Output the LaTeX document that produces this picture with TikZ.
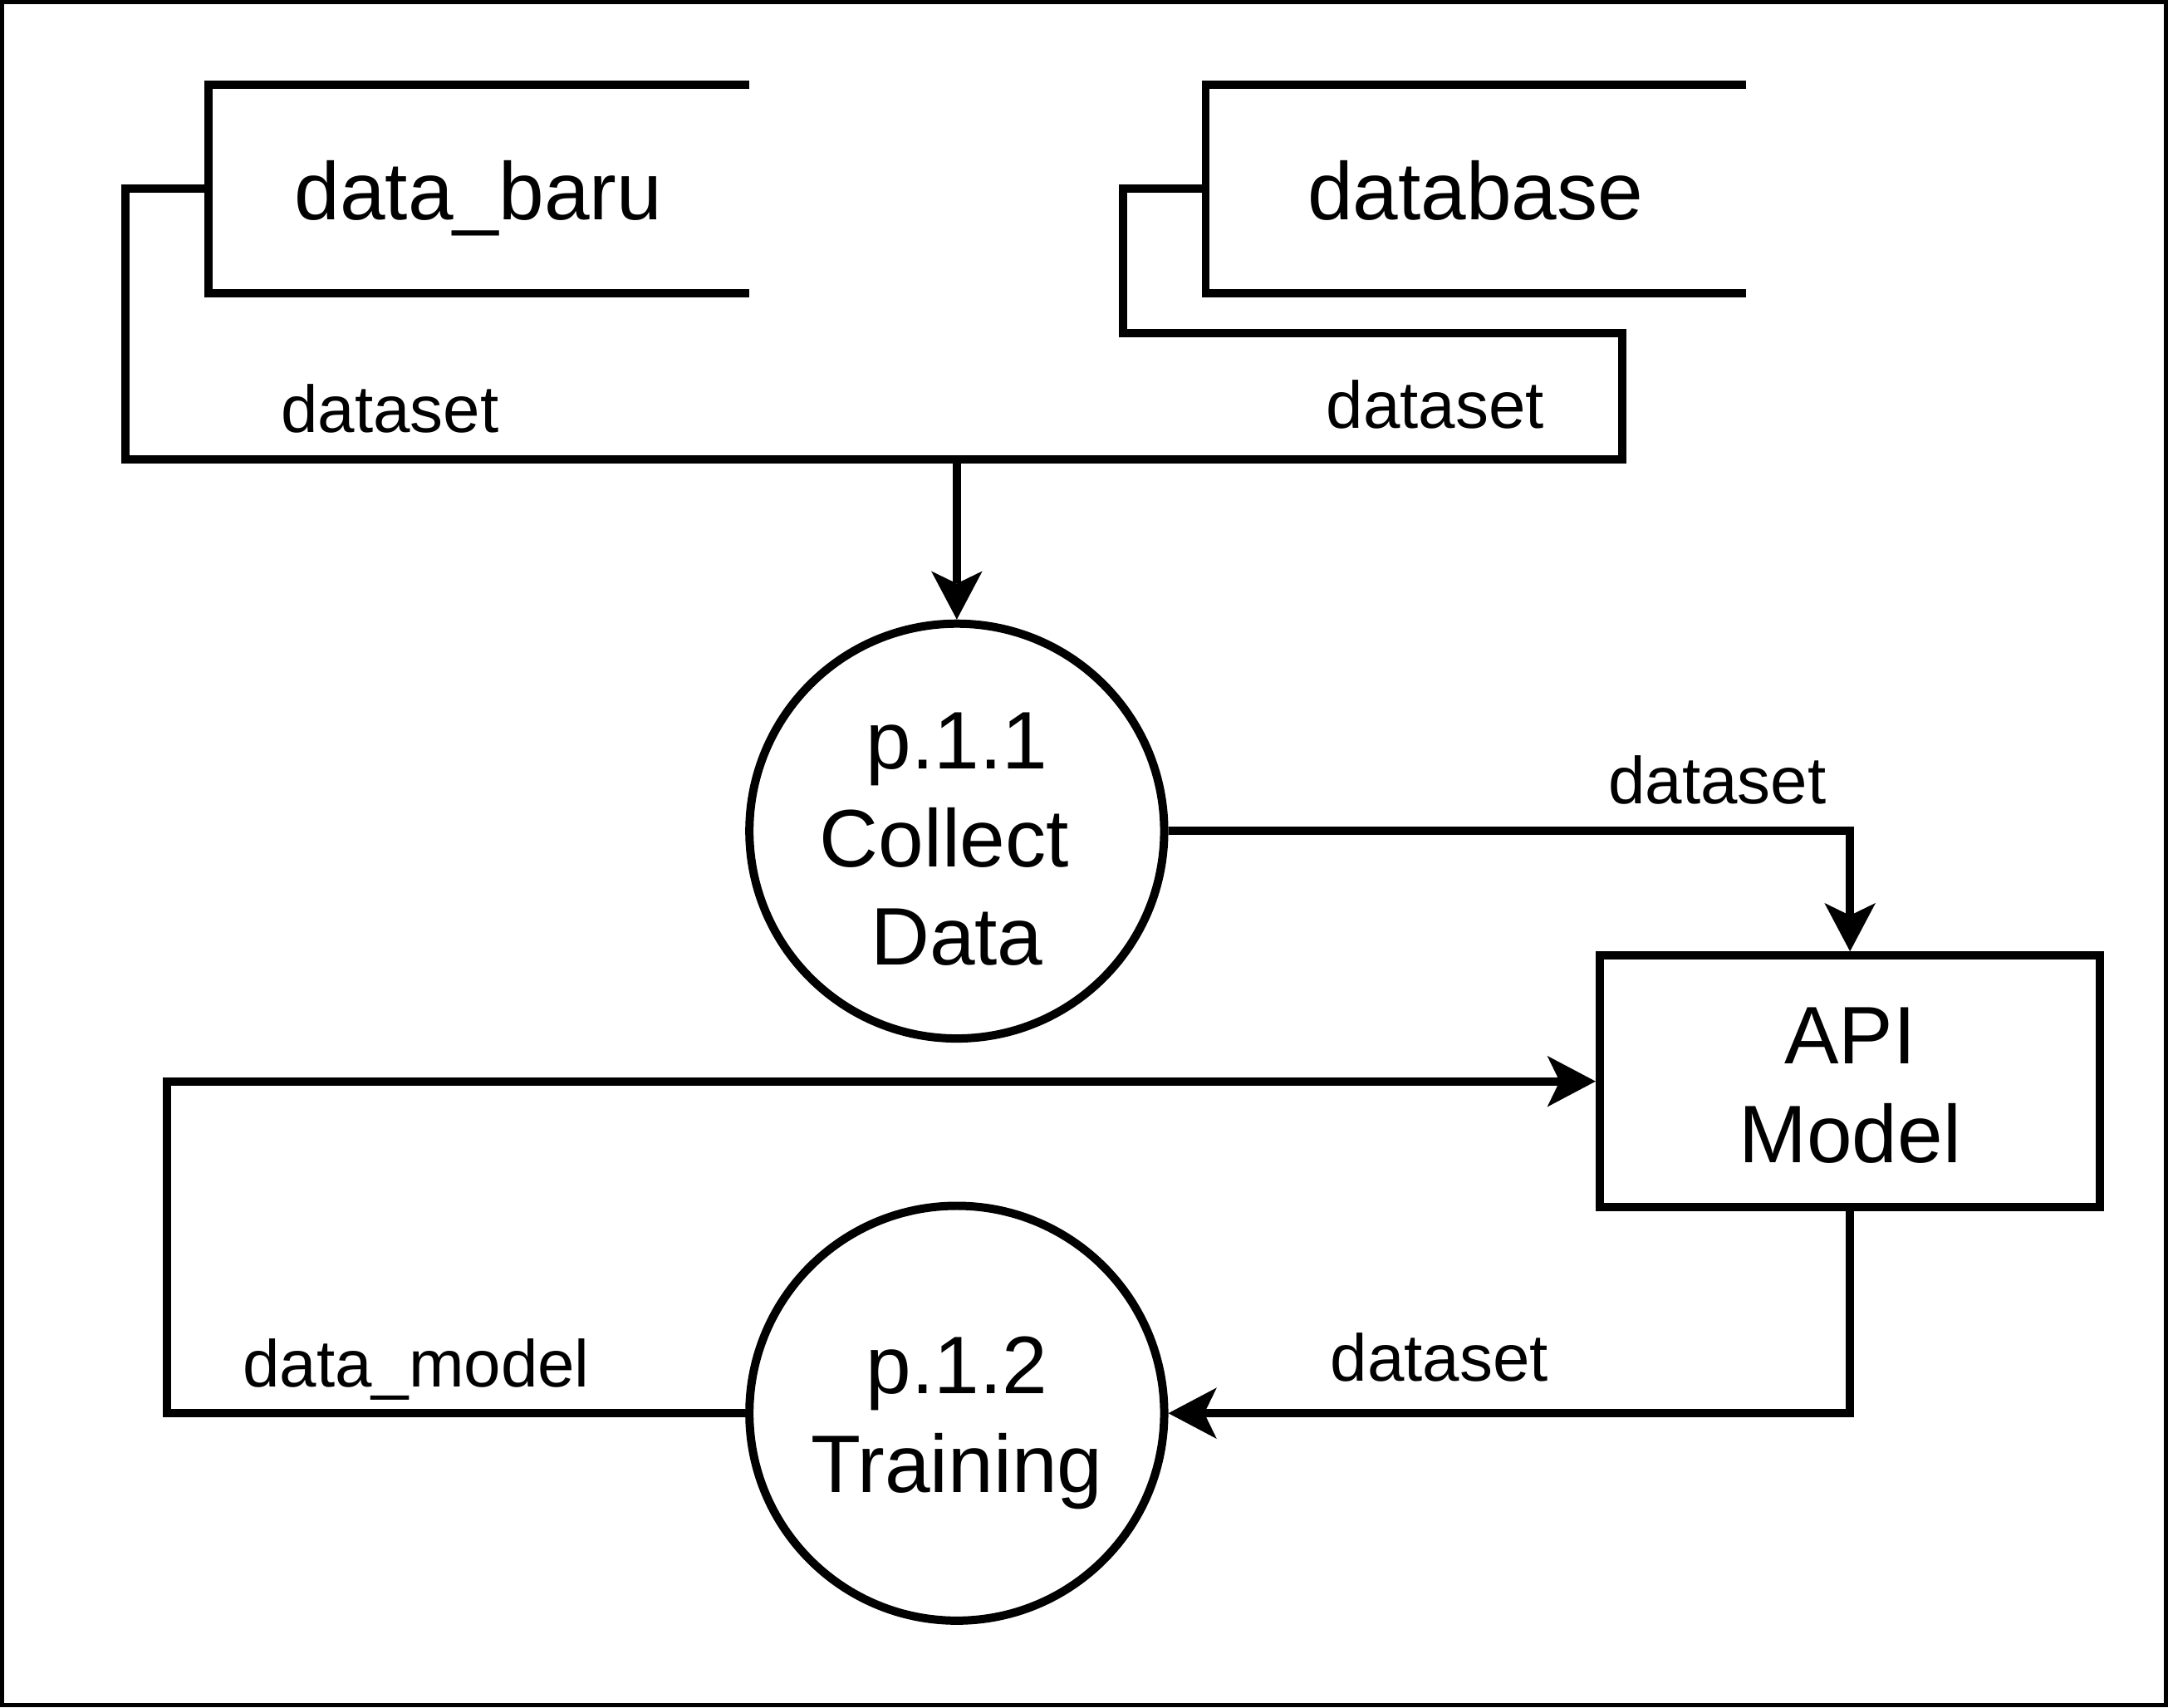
\documentclass[tikz,border=0pt]{standalone}
\usepackage{fontspec}
\setmainfont{Liberation Sans}
\usetikzlibrary{arrows.meta}
\tikzset{
  ln/.style={line width=6pt, line join=miter, line cap=butt},
  arr/.style={ln, -{Stealth[length=35pt,width=37pt,inset=9pt,line width=0pt]}},
  bigtxt/.style={font=\fontsize{59}{71}\selectfont, align=center, inner sep=0pt},
  lbl/.style={font=\fontsize{48}{58}\selectfont, inner sep=0pt, anchor=base},
  proc/.style={ln, draw, circle, minimum size=300pt, inner sep=0pt},
  storebox/.style={draw=none, rectangle, minimum width=391pt, minimum height=151pt, inner sep=0pt, outer sep=0pt},
}
\begin{document}
\begin{tikzpicture}[x=1pt,y=-1pt]
\useasboundingbox (0,0) rectangle (1568,1234.6);
\draw[line width=3pt] (1.5,1.5) rectangle (1566.5,1233.1);

% data stores
\node[storebox] (s1) at (346.5,136.5) {};
\node[storebox] (s2) at (1067.5,136.5) {};
\draw[ln] (s1.north east) -- (s1.north west) -- (s1.south west) -- (s1.south east);
\draw[ln] (s2.north east) -- (s2.north west) -- (s2.south west) -- (s2.south east);
\node[bigtxt, anchor=base] (t1) at (346,159) {data\_baru};
\node[bigtxt, anchor=base] (t2) at (1067,159) {database};

% processes
\node[proc] (c1) at (692,601) {};
\node[proc] (c2) at (692,1022) {};
\node[bigtxt] (c1t) at (692,607) {p.1.1\\Collect\kern18pt\\Data};
\node[bigtxt] (c2t) at (692,1029) {p.1.2\\Training};
\node[ln, draw, rectangle, minimum width=362pt, minimum height=182pt, inner sep=0pt] (api) at (1338,782) {};
\node[bigtxt] (apit) at (1338,785) {API\\Model};

% connectors
\coordinate (j) at (692,332);
\coordinate (b1) at (91,136.5);
\coordinate (b2) at (812,136.5);
\coordinate (b3) at (1173,241);
\coordinate (b4) at (121,1022);
\draw[ln] (s1.west) -- (b1) |- (j);
\draw[ln] (s2.west) -- (b2) |- (b3) |- (j);
\draw[arr] (j) -- (c1.north);
\draw[arr] (c1.east) -| (api.north);
\draw[arr] (api.south) |- (c2.east);
\draw[arr] (c2.west) -- (b4) |- (api.west);

% labels
\node[lbl] (l1) at (282,312.5) {dataset};
\node[lbl] (l2) at (1038,309.5) {dataset};
\node[lbl] (l3) at (1242,581) {dataset};
\node[lbl] (l4) at (1041,999) {dataset};
\node[lbl] (l5) at (301,1003) {data\_model};
\end{tikzpicture}
\end{document}
